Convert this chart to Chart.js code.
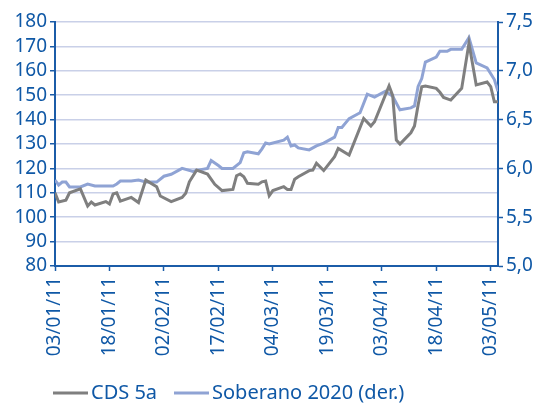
<!DOCTYPE html>
<html>
<head>
<meta charset="utf-8">
<script src="https://cdn.jsdelivr.net/npm/chart.js@4"></script>
<style>
  html, body { margin: 0; padding: 0; background: #ffffff; }
  #wrap { width: 533px; height: 405px; }
</style>
</head>
<body>
<div id="wrap"><canvas id="c" width="533" height="405"></canvas></div>
<script>
// Calendar days since 03/01/2011
const cdsDays = [0,1,3,4,7,9,10,11,14,15,16,17,18,21,23,25,28,29,32,35,36,37,39,42,44,46,49,50,51,52,53,56,57,58,59,60,63,64,65,66,67,70,71,72,74,77,78,81,85,87,88,92,93,94,95,98,99,100,101,102,105,106,107,109,112,114,116,119,120,121,122];
const cdsValues = [110,106.2,107,110,111.6,104.6,106.2,105,106.4,105.4,109.5,110,106.6,108.1,106,115.2,112.5,108.7,106.4,108.1,109.8,114.5,119.3,117.7,113.5,110.9,111.4,117,117.7,116.6,113.9,113.5,114.5,114.8,108.8,110.9,112.5,111.4,111.4,115.6,116.6,119.1,119.3,122.1,119.1,124.8,128.2,125.5,140.5,137.4,139.1,153.8,149.8,131.6,130,134.6,137.4,146,153.5,153.8,152.8,151.2,149.1,148,152.8,171.3,154.2,155.4,153.5,147.3,147.3];

const sobDays = [0,1,2,3,4,7,9,11,16,17,18,21,23,25,28,30,32,35,38,39,42,43,45,46,49,51,52,53,56,57,58,59,63,64,65,66,67,70,72,74,77,78,79,81,84,86,88,91,93,95,98,99,100,101,102,105,106,108,109,112,114,116,119,121,122];
const sobValues = [5.88,5.83,5.86,5.86,5.81,5.81,5.84,5.82,5.82,5.84,5.87,5.87,5.88,5.86,5.86,5.92,5.94,6.00,5.97,5.98,6.00,6.08,6.03,6.00,6.00,6.06,6.16,6.17,6.15,6.20,6.26,6.25,6.29,6.32,6.23,6.24,6.21,6.19,6.23,6.26,6.32,6.42,6.42,6.51,6.57,6.76,6.73,6.79,6.74,6.60,6.62,6.64,6.84,6.92,7.09,7.14,7.20,7.20,7.22,7.22,7.34,7.08,7.03,6.91,6.79];

const seriesNames = ['CDS 5a', 'Soberano 2020 (der.)'];
const leftTicks = { min: 80, max: 180, step: 10 };
const rightTicks = { min: 5, max: 7.5, step: 0.5 };
const xTicks = { min: 0, max: 122, step: 15 };

const startDate = new Date(2011, 0, 3);
function dayLabel(d) {
  const dt = new Date(startDate.getTime());
  dt.setDate(dt.getDate() + Math.round(d));
  const p = n => String(n).padStart(2, '0');
  return p(dt.getDate()) + '/' + p(dt.getMonth() + 1) + '/' + p(dt.getFullYear() % 100);
}

const BLUE = '#0f58a6';
const AXIS = '#1b5ca8';
const GRID = '#c9d0e8';
const GRAY = '#7f7f7f';
const LBLUE = '#8fa3d4';
const FONT = '"Noto Sans", sans-serif';

const legendPlugin = {
  id: 'customLegend',
  afterDraw(chart) {
    const ctx = chart.ctx;
    const y = 393;
    const items = [
      { x: 53, color: GRAY, text: chart.data.datasets[0].label },
      { x: 174, color: LBLUE, text: chart.data.datasets[1].label }
    ];
    ctx.save();
    ctx.font = '20px ' + FONT;
    ctx.textBaseline = 'middle';
    ctx.fillStyle = BLUE;
    items.forEach(it => {
      ctx.strokeStyle = it.color;
      ctx.lineWidth = 3;
      ctx.beginPath();
      ctx.moveTo(it.x, y);
      ctx.lineTo(it.x + 35, y);
      ctx.stroke();
      ctx.fillText(it.text, it.x + 38, y);
    });
    ctx.restore();
  }
};

new Chart(document.getElementById('c'), {
  type: 'line',
  data: {
    datasets: [
      {
        label: seriesNames[0],
        data: cdsDays.map((d, i) => ({ x: d, y: cdsValues[i] })),
        borderColor: GRAY,
        backgroundColor: GRAY,
        borderWidth: 3,
        pointRadius: 0,
        tension: 0,
        yAxisID: 'y'
      },
      {
        label: seriesNames[1],
        data: sobDays.map((d, i) => ({ x: d, y: sobValues[i] })),
        borderColor: LBLUE,
        backgroundColor: LBLUE,
        borderWidth: 3,
        pointRadius: 0,
        tension: 0,
        yAxisID: 'y2'
      }
    ]
  },
  options: {
    responsive: false,
    animation: false,
    devicePixelRatio: 1,
    layout: { padding: { top: 22, bottom: 0, left: 0, right: 0 } },
    plugins: { legend: { display: false }, tooltip: { enabled: false } },
    scales: {
      x: {
        type: 'linear',
        min: xTicks.min,
        max: xTicks.max,
        afterFit(s) { s.height = 139; },
        border: { color: AXIS, width: 2 },
        grid: { drawOnChartArea: false, drawTicks: true, tickLength: 5, tickColor: AXIS, tickWidth: 1.5 },
        ticks: {
          stepSize: xTicks.step,
          includeBounds: false,
          autoSkip: false,
          minRotation: 90,
          maxRotation: 90,
          padding: 6,
          color: BLUE,
          font: { family: FONT, size: 19 },
          callback: v => dayLabel(v)
        }
      },
      y: {
        position: 'left',
        min: leftTicks.min,
        max: leftTicks.max,
        afterFit(s) { s.width = 55; },
        border: { color: AXIS, width: 2 },
        grid: { color: GRID, lineWidth: 1.5, tickColor: AXIS, tickLength: 5, tickWidth: 1.5 },
        ticks: {
          stepSize: leftTicks.step,
          autoSkip: false,
          padding: 3,
          color: BLUE,
          font: { family: FONT, size: 19 }
        }
      },
      y2: {
        position: 'right',
        min: rightTicks.min,
        max: rightTicks.max,
        afterFit(s) { s.width = 35; },
        border: { color: AXIS, width: 2 },
        grid: { drawOnChartArea: false, tickColor: AXIS, tickLength: 5, tickWidth: 1.5 },
        ticks: {
          stepSize: rightTicks.step,
          autoSkip: false,
          padding: 3,
          color: BLUE,
          font: { family: FONT, size: 19 },
          callback: v => v.toFixed(1).replace('.', ',')
        }
      }
    }
  },
  plugins: [legendPlugin]
});
</script>
</body>
</html>
